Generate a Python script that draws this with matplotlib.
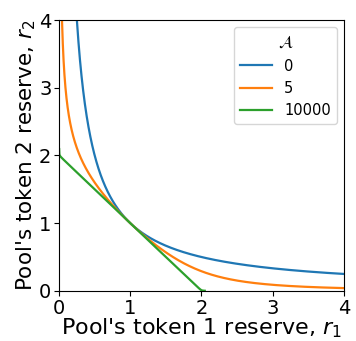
import numpy as np
import matplotlib
matplotlib.use("Agg")
import matplotlib.pyplot as plt

# amplification values and pool invariant
amplifications = [0, 5, 10000]
invariant_D = 2.0
r1 = np.linspace(0.001, 4.0, 4000)
ticks = [0, 1, 2, 3, 4]


def stableswap_r2(x, ann, D):
    # ann*(x+y) + D = ann*D + D^3/(4xy), solved for y (positive root)
    a = 4 * ann * x
    b = 4 * ann * x**2 + 4 * D * x - 4 * ann * D * x
    c = -D**3
    disc = np.sqrt(b**2 - 4 * a * c)
    with np.errstate(divide='ignore', invalid='ignore'):
        y_pos = -2 * c / (b + disc)
        y_neg = (-b + disc) / (2 * a)
    y = np.where(b > 0, y_pos, y_neg)
    # drop the part that lies flat on the x axis
    return np.where(y < 2e-3, np.nan, y)


fig = plt.figure(figsize=(3.56, 3.41), dpi=100)
ax = fig.add_axes([0.166, 0.147, 0.80, 0.794])

for A in amplifications:
    ax.plot(r1, stableswap_r2(r1, A, invariant_D), lw=1.6, label=str(A))

ax.set_xlim(0, 4)
ax.set_ylim(0, 4)
ax.set_xticks(ticks)
ax.set_yticks(ticks)
ax.tick_params(labelsize=14, pad=2)
ax.set_xlabel("Pool's token 1 reserve, $r_1$", fontsize=16, labelpad=-1)
ax.set_ylabel("Pool's token 2 reserve, $r_2$", fontsize=15.5, labelpad=1)
ax.legend(title=r"$\mathcal{A}$", loc="upper right", fontsize=10.5,
          title_fontsize=12, handlelength=2.2)

fig.savefig("out.png", dpi=100)
